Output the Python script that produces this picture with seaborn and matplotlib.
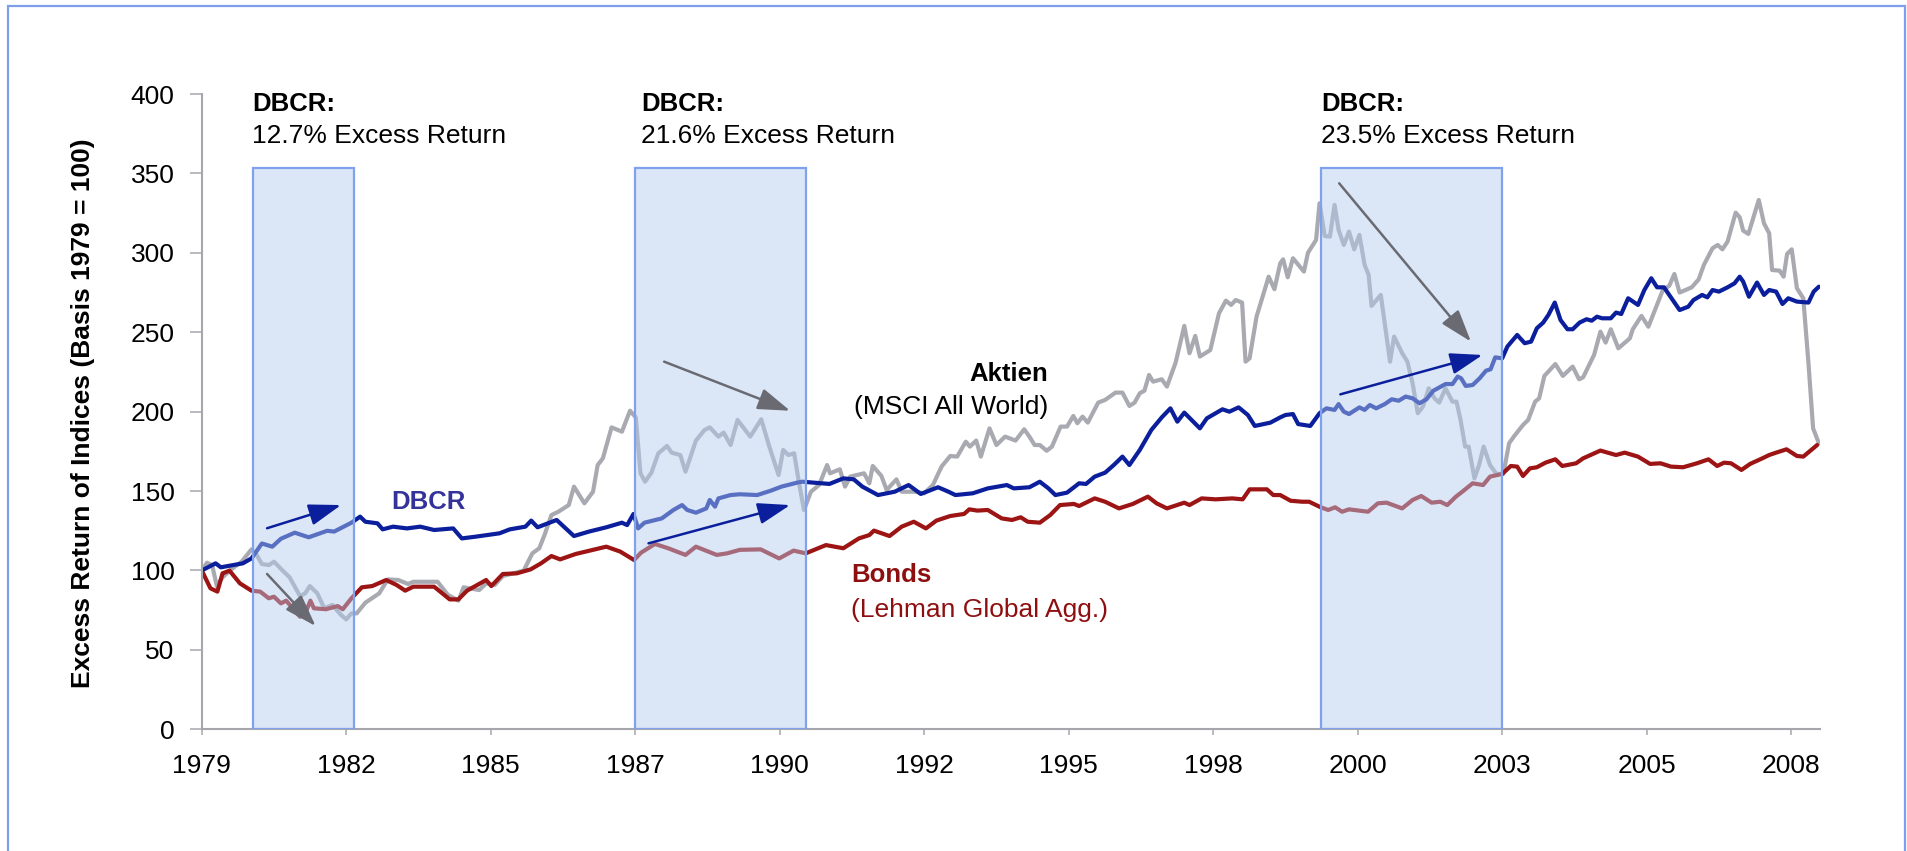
import pandas as pd
import seaborn as sns
import numpy as np
import matplotlib.pyplot as plt
from matplotlib.patches import Rectangle

# x = years since Jan 1979 (axis ticks every 2.5 years), y = index level (1979 = 100)
tick_pos = [0, 2.5, 5, 7.5, 10, 12.5, 15, 17.5, 20, 22.5, 25, 27.5]
tick_labels = ['1979', '1982', '1985', '1987', '1990', '1992',
               '1995', '1998', '2000', '2003', '2005', '2008']

dbcr = [(0, 100), (0.24, 104.5), (0.33, 102), (0.71, 104.5), (0.86, 107.6), (1.04, 117), (1.22, 115),
        (1.37, 120), (1.61, 123.8), (1.85, 120.9), (2.17, 125), (2.29, 124.5), (2.59, 130.1), (2.74, 133.9),
        (2.83, 130.7), (3.04, 129.7), (3.13, 125.9), (3.31, 127.6), (3.55, 126.5), (3.78, 127.6), (4.02, 125.5),
        (4.35, 126.5), (4.50, 120.2), (4.74, 121.3), (5.15, 123.4), (5.33, 125.9), (5.60, 127.6), (5.70, 131.4),
        (5.81, 127.2), (6.14, 131.8), (6.44, 121.7), (6.70, 124.5), (7.00, 127.2), (7.27, 130.1), (7.36, 128.6),
        (7.47, 135.6), (7.55, 126.5), (7.66, 130.1), (7.96, 132.8), (8.16, 138.1), (8.31, 141.2), (8.40, 138.1),
        (8.55, 136.4), (8.73, 139.1), (8.79, 144.4), (8.88, 140.2), (8.94, 145.4), (9.15, 147.5), (9.31, 148),
        (9.61, 147.5), (9.85, 150.3), (10.03, 152.8), (10.30, 155.3), (10.39, 155.9), (10.86, 154.5), (11.10, 158),
        (11.28, 157.4), (11.43, 152.8), (11.70, 147.5), (11.99, 149.6), (12.23, 153.8), (12.44, 148.2),
        (12.74, 152.4), (12.92, 149.6), (13.04, 147.5), (13.34, 148.6), (13.60, 151.7), (13.93, 153.8),
        (14.05, 151.7), (14.32, 152.4), (14.50, 155.9), (14.65, 151.7), (14.77, 147.5), (14.97, 149),
        (15.18, 154.9), (15.30, 154.5), (15.45, 159.1), (15.63, 161.6), (15.78, 166.4), (15.93, 171.7),
        (16.05, 166.4), (16.23, 175.9), (16.43, 188.5), (16.61, 196.4), (16.76, 202.1), (16.88, 193.7),
        (17.00, 199.4), (17.27, 189.5), (17.39, 195.8), (17.66, 201.5), (17.78, 200), (17.94, 202.7),
        (18.10, 197.9), (18.22, 191), (18.49, 193.1), (18.66, 196.4), (18.75, 197.9), (18.88, 198.5),
        (18.97, 192.2), (19.18, 191), (19.34, 199), (19.46, 202.1), (19.60, 201.1), (19.67, 204.8), (19.76, 200),
        (19.85, 198.5), (20.03, 202.7), (20.12, 201.1), (20.21, 204.2), (20.32, 202.1), (20.47, 204.8),
        (20.59, 207.8), (20.71, 206.9), (20.83, 209.5), (20.95, 208.4), (21.07, 205.3), (21.19, 207.8),
        (21.31, 213.2), (21.52, 217.4), (21.64, 217.4), (21.73, 222.1), (21.79, 221), (21.87, 216.2),
        (21.99, 216.8), (22.11, 221), (22.22, 225.8), (22.30, 226.7), (22.38, 234.2), (22.50, 233.6),
        (22.59, 241), (22.76, 248.3), (22.89, 243.1), (23.00, 244.1), (23.10, 252.5), (23.21, 256.1),
        (23.30, 260.9), (23.41, 268.7), (23.51, 257.7), (23.63, 251.9), (23.72, 251.9), (23.84, 256.1),
        (23.96, 258.2), (24.05, 257.3), (24.14, 259.8), (24.23, 258.8), (24.38, 258.8), (24.47, 262.4),
        (24.56, 261.5), (24.68, 271.4), (24.85, 267.2), (24.96, 276.6), (25.08, 284), (25.18, 278.3),
        (25.30, 278.3), (25.45, 270.3), (25.57, 264), (25.72, 266.1), (25.81, 270.3), (25.96, 273.5),
        (26.05, 272), (26.14, 276.6), (26.25, 275.6), (26.40, 278.3), (26.52, 280.8), (26.61, 285),
        (26.67, 281.9), (26.77, 272.4), (26.91, 281.3), (27.03, 273.5), (27.12, 276.6), (27.24, 275.6),
        (27.35, 267.8), (27.45, 271.4), (27.60, 269.3), (27.80, 268.7), (27.89, 275.6), (27.98, 278.7)]

bonds = [(0, 100), (0.15, 88.8), (0.27, 86.7), (0.36, 98.2), (0.48, 99.9), (0.66, 91.9), (0.86, 87.3),
         (1.01, 86.7), (1.16, 82.5), (1.25, 83.5), (1.37, 79.3), (1.46, 81), (1.70, 70.9), (1.79, 73),
         (1.88, 81), (1.94, 76.2), (2.15, 75.6), (2.35, 77.6), (2.44, 75.6), (2.59, 82.5), (2.77, 89.4),
         (2.95, 90.2), (3.19, 94), (3.37, 90.9), (3.52, 87.3), (3.66, 89.8), (4.02, 89.8), (4.29, 81.8),
         (4.44, 81.8), (4.59, 87.3), (4.92, 94), (5.01, 90.2), (5.21, 97.8), (5.45, 98.2), (5.69, 100.7),
         (5.87, 104.5), (6.05, 109.1), (6.20, 107), (6.47, 110.4), (6.76, 112.9), (7.00, 115), (7.24, 111.9),
         (7.48, 106.6), (7.60, 111.2), (7.84, 116.7), (8.07, 114), (8.37, 109.8), (8.55, 115), (8.91, 109.8),
         (9.09, 110.8), (9.31, 113), (9.67, 113.3), (9.99, 107.6), (10.24, 112.5), (10.45, 110.8), (10.80, 116),
         (11.10, 114), (11.37, 120.2), (11.55, 122.3), (11.63, 125.1), (11.90, 121.7), (12.11, 127.6),
         (12.32, 130.7), (12.53, 126.5), (12.71, 131.4), (12.95, 134.3), (13.19, 135.6), (13.28, 138.5),
         (13.42, 137.7), (13.60, 138.1), (13.84, 132.8), (14.02, 131.8), (14.17, 133.5), (14.29, 130.7),
         (14.50, 130.1), (14.68, 134.9), (14.85, 141.2), (15.09, 141.9), (15.18, 140.6), (15.45, 145.4),
         (15.63, 143.3), (15.87, 139.1), (16.11, 141.9), (16.37, 146.5), (16.52, 142.3), (16.70, 139.1),
         (17.00, 142.7), (17.09, 141.2), (17.30, 145.4), (17.54, 144.8), (17.83, 145.4), (18.01, 144.8),
         (18.13, 151.1), (18.43, 151.1), (18.54, 147.5), (18.66, 147.5), (18.84, 143.9), (19.04, 143.3),
         (19.16, 143.3), (19.36, 139.8), (19.49, 138.1), (19.61, 139.8), (19.73, 137), (19.85, 138.5),
         (20.18, 137), (20.35, 142.3), (20.50, 142.7), (20.77, 139.1), (20.95, 144.4), (21.10, 146.9),
         (21.28, 142.7), (21.43, 143.3), (21.55, 141.2), (21.70, 146.5), (21.81, 149.6), (21.99, 154.9),
         (22.17, 153.8), (22.29, 159.1), (22.50, 160.8), (22.65, 165.8), (22.76, 165.4), (22.86, 159.5),
         (22.98, 164.3), (23.10, 165), (23.25, 167.9), (23.42, 170), (23.54, 165.8), (23.78, 167.5),
         (23.90, 170.6), (24.20, 175.5), (24.47, 172.7), (24.62, 174.2), (24.85, 171.7), (25.06, 167.1),
         (25.24, 167.5), (25.42, 165.4), (25.63, 165), (25.87, 167.5), (26.07, 170), (26.22, 165.8),
         (26.34, 167.9), (26.46, 167.5), (26.64, 163.3), (26.79, 167.1), (27.00, 170.6), (27.12, 172.7),
         (27.24, 174.2), (27.42, 176.3), (27.60, 172.1), (27.71, 171.7), (27.86, 176.3), (27.95, 179)]

msci = [(0, 100), (0.09, 104.9), (0.18, 103.4), (0.26, 90.2), (0.36, 95.7), (0.51, 100.7), (0.69, 105.5),
        (0.86, 113.3), (0.95, 109.8), (1.04, 104.1), (1.16, 103.4), (1.25, 105.5), (1.40, 99.9), (1.52, 95.7),
        (1.70, 83.9), (1.79, 85.6), (1.87, 90.2), (2.00, 85.6), (2.12, 76.2), (2.26, 78.3), (2.41, 72),
        (2.50, 69.2), (2.59, 73), (2.68, 73), (2.83, 79.7), (3.07, 85.6), (3.22, 94.4), (3.40, 94), (3.57, 91.5),
        (3.66, 92.9), (4.08, 92.9), (4.26, 84.6), (4.44, 81), (4.53, 89.4), (4.80, 87.7), (4.92, 91.9),
        (5.07, 90.9), (5.21, 96.5), (5.57, 99.9), (5.72, 110.8), (5.84, 114), (5.93, 122.3), (6.05, 134.9),
        (6.17, 137), (6.35, 141.2), (6.44, 152.8), (6.62, 142.3), (6.77, 149.6), (6.85, 166.4), (6.94, 170.6),
        (7.09, 190.1), (7.27, 187.4), (7.41, 200.6), (7.51, 196.4), (7.59, 161.2), (7.67, 155.9), (7.78, 161.6),
        (7.90, 173.8), (8.05, 178.4), (8.13, 174.2), (8.28, 172.7), (8.37, 162.2), (8.55, 181.8), (8.70, 188.5),
        (8.79, 190.1), (8.94, 184.3), (9.03, 186.8), (9.15, 179), (9.27, 194.8), (9.49, 184.3), (9.68, 195.2),
        (9.82, 178), (9.98, 160.1), (10.06, 175.9), (10.15, 172.7), (10.25, 173.8), (10.33, 155.9),
        (10.42, 138.1), (10.54, 149.6), (10.68, 153.8), (10.82, 166.4), (10.87, 161.2), (11.04, 163.7),
        (11.13, 152.8), (11.22, 159.1), (11.46, 161.2), (11.55, 154.9), (11.61, 165.8), (11.76, 159.5),
        (11.85, 150.7), (12.02, 157.4), (12.11, 149.6), (12.35, 149.6), (12.50, 148.6), (12.65, 153.8),
        (12.80, 165.4), (12.95, 172.1), (13.07, 171.7), (13.22, 181.1), (13.29, 178), (13.40, 181.8),
        (13.48, 171.7), (13.63, 189.5), (13.75, 179), (13.90, 184.3), (14.08, 181.8), (14.23, 188.9),
        (14.32, 184.3), (14.41, 179), (14.50, 179), (14.62, 175.4), (14.71, 178), (14.86, 190.6), (14.97, 190.6),
        (15.08, 197.3), (15.15, 192.7), (15.24, 196.9), (15.33, 193.1), (15.51, 205.7), (15.63, 207.4),
        (15.81, 212), (15.93, 212), (16.05, 203.6), (16.14, 205.7), (16.23, 211.6), (16.31, 213.2),
        (16.39, 223.1), (16.46, 218.9), (16.61, 220.4), (16.70, 215.8), (16.85, 230.9), (17.00, 254),
        (17.09, 236.8), (17.19, 247.7), (17.27, 234.7), (17.45, 238.8), (17.60, 261.9), (17.72, 269.9),
        (17.81, 267.2), (17.89, 270.3), (18.00, 268.7), (18.06, 231.5), (18.13, 233.6), (18.25, 259.8),
        (18.46, 285), (18.56, 277.1), (18.66, 293.4), (18.71, 295.9), (18.79, 284.6), (18.88, 296.6),
        (19.07, 288.2), (19.14, 300.1), (19.28, 308.1), (19.34, 331.2), (19.43, 310.6), (19.52, 310.2),
        (19.60, 330.2), (19.67, 314.4), (19.76, 305), (19.85, 313.4), (19.94, 302.2), (20.03, 311.3),
        (20.12, 292.4), (20.19, 286.1), (20.24, 266.6), (20.40, 273.5), (20.56, 231.5), (20.63, 247.3),
        (20.77, 236.8), (20.86, 231.5), (20.95, 217.9), (21.04, 199), (21.13, 203.2), (21.23, 214.7),
        (21.33, 208.4), (21.41, 205.7), (21.52, 214.7), (21.64, 206.3), (21.71, 206.3), (21.78, 194.8),
        (21.86, 178), (21.92, 178), (22.02, 158), (22.10, 166.4), (22.18, 178), (22.29, 166.4), (22.40, 160.8),
        (22.52, 160.8), (22.62, 180.1), (22.71, 184.7), (22.86, 191.6), (22.95, 194.8), (23.07, 206.3),
        (23.14, 208.4), (23.23, 222.5), (23.42, 230), (23.55, 222.5), (23.72, 228.4), (23.83, 220.4),
        (23.90, 221.6), (24.09, 235.7), (24.20, 250.4), (24.29, 243.5), (24.38, 251.9), (24.51, 239.9),
        (24.71, 246.2), (24.76, 251.9), (24.91, 260.3), (25.03, 253.5), (25.15, 264.5), (25.28, 276.6),
        (25.39, 279.2), (25.48, 286.7), (25.57, 275), (25.78, 278.3), (25.90, 283.3), (25.99, 292.4),
        (26.14, 302.9), (26.23, 305), (26.31, 302.2), (26.40, 307.1), (26.54, 325.3), (26.61, 322.4),
        (26.67, 314), (26.76, 311.9), (26.94, 333.3), (27.03, 318.6), (27.12, 312.3), (27.17, 289.2),
        (27.30, 288.8), (27.37, 285), (27.43, 299.3), (27.51, 302.2), (27.60, 277.7), (27.71, 271.4),
        (27.80, 230.4), (27.88, 189.5), (27.98, 180.1)]

# DBCR outperformance periods (start, end) and the excess returns
periods = [(0.89, 2.64), (7.5, 10.46), (19.36, 22.5)]
period_top = 353.5
excess = ['12.7%', '21.6%', '23.5%']

blue_arrows = [((1.13, 126.6), (2.41, 141.2)), ((7.73, 117.1), (10.18, 141.2)), ((19.70, 210.9), (22.16, 235.7))]
gray_arrows = [((1.13, 97.8), (1.97, 65.0)), ((8.0, 231.5), (10.18, 200.6)), ((19.68, 343.8), (21.96, 244.1))]

c_dbcr = '#0b1f9c'
c_bonds = '#9c1414'
c_msci = '#a9aab1'

sns.set_style('white')
plt.rcParams['font.family'] = ['Liberation Sans', 'DejaVu Sans']
plt.rcParams['text.color'] = 'black'
plt.rcParams['axes.labelcolor'] = 'black'

fig = plt.figure(figsize=(19.07, 8.51), dpi=100)
ax = fig.add_axes([0.1058, 0.1430, 0.8486, 0.7465])

for pts, col in [(msci, c_msci), (bonds, c_bonds), (dbcr, c_dbcr)]:
    df = pd.DataFrame(pts, columns=['t', 'v'])
    sns.lineplot(data=df, x='t', y='v', color=col, lw=3.0, estimator=None, sort=False, ax=ax, zorder=2)

for (a, b), pct, tx in zip(periods, excess, [0.87, 7.6, 19.37]):
    ax.add_patch(Rectangle((a, 0), b - a, period_top, facecolor='#b3cdef', alpha=0.47,
                           edgecolor='none', zorder=3))
    ax.add_patch(Rectangle((a, 0), b - a, period_top, facecolor='none',
                           edgecolor='#7fa1ee', lw=1.6, zorder=3.5))
    ax.text(tx, 394, 'DBCR:', fontsize=18.5, fontweight='bold', va='center', ha='left')
    ax.text(tx, 373.5, pct + ' Excess Return', fontsize=19, va='center', ha='left')

for arrows, col in [(blue_arrows, c_dbcr), (gray_arrows, '#6a6b72')]:
    for start, end in arrows:
        ax.annotate('', xy=end, xytext=start, zorder=4,
                    arrowprops=dict(arrowstyle='-|>,head_length=0.9,head_width=0.3', color=col,
                                    lw=1.8, mutation_scale=22, shrinkA=0, shrinkB=0))

ax.text(3.28, 143.3, 'DBCR', fontsize=18.5, fontweight='bold', color='#33339a', va='center', ha='left')
ax.text(14.65, 223.7, 'Aktien', fontsize=18.5, fontweight='bold', color='black', va='center', ha='right')
ax.text(14.65, 202.7, '(MSCI All World)', fontsize=19, color='black', va='center', ha='right')
ax.text(11.23, 97.2, 'Bonds', fontsize=18.5, fontweight='bold', color='#8e0f0f', va='center', ha='left')
ax.text(11.23, 75.1, '(Lehman Global Agg.)', fontsize=19, color='#8e0f0f', va='center', ha='left')

ax.set_xlim(0, 28.0)
ax.set_ylim(0, 400)
ax.set_xticks(tick_pos)
ax.set_xticklabels(tick_labels)
ax.set_yticks(np.arange(0, 401, 50))
ax.set_xlabel('')
ax.set_ylabel('Excess Return of Indices (Basis 1979 = 100)', fontsize=19, fontweight='bold', va='center')
ax.yaxis.set_label_coords(-0.0733, 0.498)

for s in ['top', 'right']:
    ax.spines[s].set_visible(False)
for s in ['left', 'bottom']:
    ax.spines[s].set_color('#a6a6ae')
    ax.spines[s].set_linewidth(1.5)
ax.tick_params(axis='y', direction='out', length=8.5, width=1.1, color='#a6a6ae', labelcolor='black',
               labelsize=19, pad=11, left=True)
ax.tick_params(axis='x', direction='out', length=4, width=1.1, color='#a6a6ae', labelcolor='black',
               labelsize=19, pad=14, bottom=True)

fig.patches.append(Rectangle((8 / 1907, -0.05), 1897 / 1907, 1.05 - 6 / 851, transform=fig.transFigure,
                             fill=False, edgecolor='#7f9fec', lw=1.6, clip_on=False))

fig.savefig('out.png', dpi=100)
